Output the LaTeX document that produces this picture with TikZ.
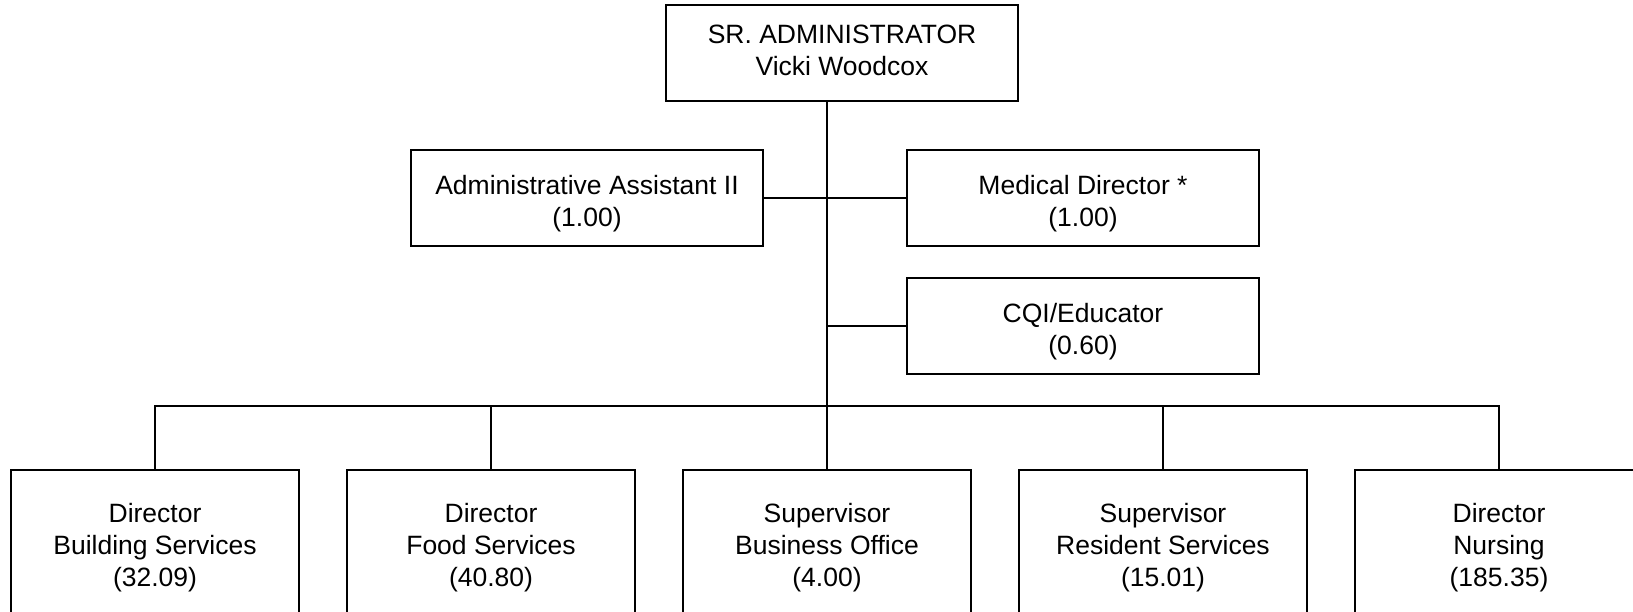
\documentclass[tikz,border=0pt]{standalone}
\usepackage{fontspec}
\setmainfont{Liberation Sans}
\newcommand\boxtext[3]{\begin{tabular}{@{}c@{}}\rule{0pt}{#1}#3\rule[-#2]{0pt}{#2}\end{tabular}}
\begin{document}
\begin{tikzpicture}[x=1pt,y=-1pt,
  box/.style={draw,line width=1.8pt,inner sep=0pt,outer sep=0pt,align=center,
    font=\fontsize{26.5}{32}\selectfont},
  wide/.style={box,minimum width=352pt,minimum height=96pt},
  low/.style={box,minimum width=288pt,minimum height=150pt},
  link/.style={line width=1.8pt}]
\useasboundingbox (0,0) rectangle (1633,612);
\clip (0,0) rectangle (1633,612);
\node[wide] (top) at (842,53) {\boxtext{22.4pt}{9.6pt}{SR. ADMINISTRATOR\\Vicki Woodcox}};
\node[wide] (admin) at (587,198) {\boxtext{34.4pt}{9.6pt}{Administrative Assistant II\\(1.00)}};
\node[wide] (med) at (1083,198) {\boxtext{34.4pt}{9.6pt}{Medical Director *\\(1.00)}};
\node[wide] (cqi) at (1083,326) {\boxtext{34.4pt}{9.6pt}{CQI/Educator\\(0.60)}};
\node[low] (b1) at (155,545) {\boxtext{28.4pt}{9.6pt}{Director\\Building Services\\(32.09)}};
\node[low] (b2) at (491,545) {\boxtext{28.4pt}{9.6pt}{Director\\Food Services\\(40.80)}};
\node[low] (b3) at (827,545) {\boxtext{28.4pt}{9.6pt}{Supervisor\\Business Office\\(4.00)}};
\node[low] (b4) at (1163,545) {\boxtext{28.4pt}{9.6pt}{Supervisor\\Resident Services\\(15.01)}};
\node[low] (b5) at (1499,545) {\boxtext{28.4pt}{9.6pt}{Director\\Nursing\\(185.35)}};
\coordinate (j) at (827,406);
\draw[link] (top.south -| j) -- (j);
\draw[link] (admin.east) -- (med.west);
\draw[link] (j |- cqi.west) -- (cqi.west);
\draw[link] (b1.north) |- (j) -| (b5.north);
\draw[link] (b2.north) -- (b2.north |- j);
\draw[link] (b3.north) -- (j);
\draw[link] (b4.north) -- (b4.north |- j);
\end{tikzpicture}
\end{document}
